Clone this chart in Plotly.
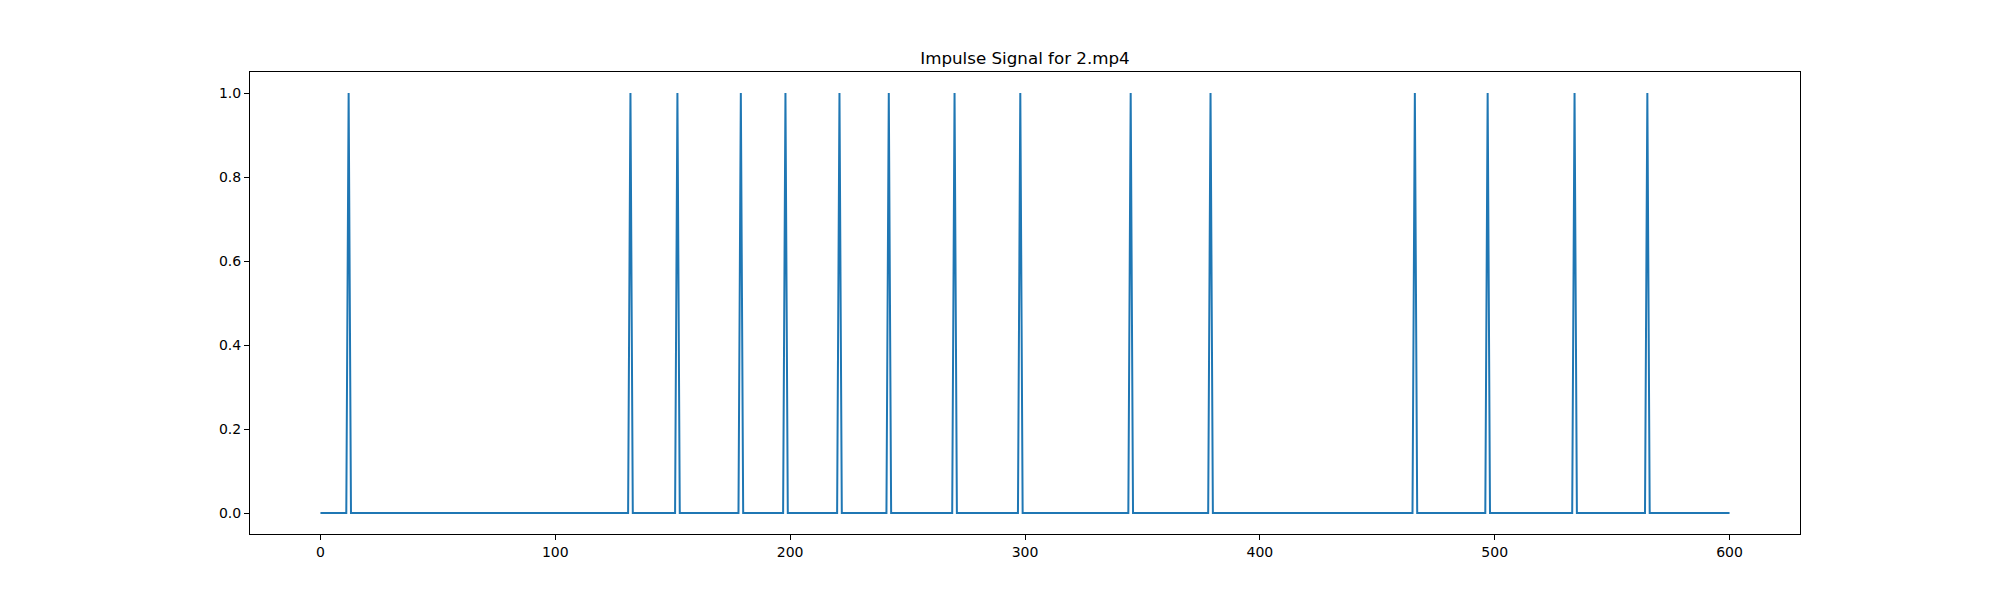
import plotly.graph_objects as go

n_frames = 601
impulse_frames = [12, 132, 152, 179, 198, 221, 242, 270, 298, 345, 379, 466, 497, 534, 565]
impulse_values = [1.0] * len(impulse_frames)

frames = list(range(n_frames))
signal = [0.0] * n_frames
for f, v in zip(impulse_frames, impulse_values):
    signal[f] = v

y_ticks = [0.0, 0.2, 0.4, 0.6, 0.8, 1.0]
x_ticks = [0, 100, 200, 300, 400, 500, 600]

fig = go.Figure()
fig.add_trace(go.Scatter(x=frames, y=signal, mode="lines",
                         line=dict(color="#1f77b4", width=2), showlegend=False))

fig.update_layout(
    width=2000, height=600,
    margin=dict(l=242, r=208, t=64, b=74),
    paper_bgcolor="white", plot_bgcolor="white",
    font=dict(family="DejaVu Sans", size=14, color="black"),
    title=dict(text="Impulse Signal for 2.mp4", x=1017 / 2000, xanchor="center", xref="container",
               y=1 - 56 / 600, yref="container", yanchor="bottom",
               font=dict(family="DejaVu Sans", size=16.7, color="black")),
)
axis_common = dict(showline=True, linecolor="black", linewidth=1, mirror=True,
                   ticks="outside", ticklen=5, tickwidth=1, tickcolor="black",
                   showgrid=False, zeroline=False,
                   tickfont=dict(family="DejaVu Sans", size=14, color="black"))
fig.update_xaxes(range=[-30, 630], tickvals=x_ticks, ticktext=[str(t) for t in x_ticks], **axis_common)
fig.update_yaxes(range=[-0.05, 1.05], tickvals=y_ticks, ticktext=[f"{t:.1f}" for t in y_ticks], **axis_common)

fig.write_html("out.html")
